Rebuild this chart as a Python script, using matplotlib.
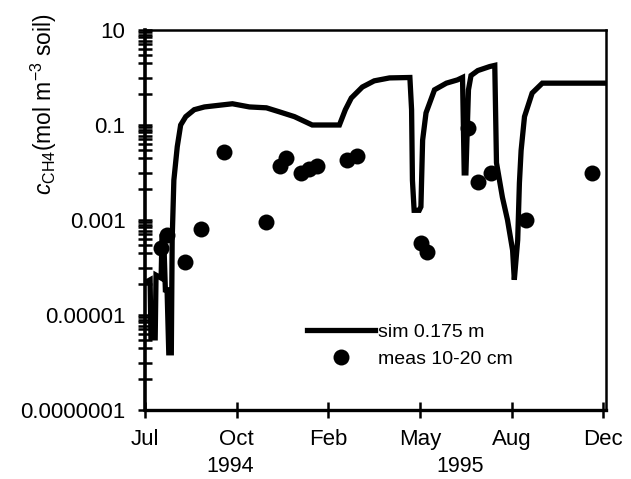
import numpy as np
import matplotlib
matplotlib.use("Agg")
import matplotlib.pyplot as plt
from matplotlib.lines import Line2D

# ===== fonts =====
plt.rcParams["font.family"] = ["Liberation Sans", "DejaVu Sans"]
plt.rcParams["mathtext.fontset"] = "custom"
plt.rcParams["mathtext.rm"] = "Liberation Sans"
plt.rcParams["mathtext.it"] = "Liberation Sans:italic"

# ===== data (days since 1 Jul 1994, mol m-3 soil) =====
sim_day = [1, 6, 7, 12, 13, 19, 20, 22, 24, 26, 28, 31, 32, 34, 38, 42, 48, 58,
           70, 87, 103, 123, 143, 158, 176, 197, 229, 236, 243, 256, 270, 288,
           312, 314, 315, 317, 323, 325, 327, 331, 341, 355, 368, 374, 376, 378,
           381, 384, 392, 406, 412, 414, 421, 427, 433, 435, 439, 441, 443, 447,
           456, 468, 488, 543]
sim_conc = [4.9e-5, 5.5e-5, 3.3e-6, 3.3e-6, 6.9e-5, 6.0e-5, 4.4e-4, 4.4e-4,
            3.4e-5, 3.4e-5, 1.6e-6, 1.6e-6, 3.8e-4, 6.9e-3, 3.5e-2, 0.10, 0.15,
            0.21, 0.24, 0.26, 0.28, 0.24, 0.23, 0.19, 0.15, 0.10, 0.10, 0.21,
            0.37, 0.63, 0.85, 0.98, 1.0, 0.21, 6.9e-3, 1.6e-3, 1.6e-3, 1.9e-3,
            4.8e-2, 0.18, 0.55, 0.76, 0.89, 1.0, 9.8e-3, 9.8e-3, 0.55, 1.1, 1.4,
            1.7, 1.8, 1.6e-2, 3.0e-3, 1.0e-3, 2.3e-4, 5.5e-5, 3.8e-4, 6.0e-3,
            2.9e-2, 0.15, 0.47, 0.76, 0.76, 0.76]

meas_day = [19, 26, 47, 66, 93, 143, 159, 166, 184, 193, 203, 238, 250,
            325, 332, 380, 392, 408, 449, 527]
meas_conc = [2.6e-4, 4.8e-4, 1.3e-4, 6.5e-4, 2.7e-2, 9.1e-4, 1.4e-2, 2.0e-2,
             9.8e-3, 1.2e-2, 1.4e-2, 1.8e-2, 2.2e-2, 3.3e-4, 2.1e-4, 8.7e-2,
             6.3e-3, 1.0e-2, 1.0e-3, 9.8e-3]

x_ticks = [0, 108, 216, 324, 432, 540]
x_labels = ["Jul", "Oct", "Feb", "May", "Aug", "Dec"]
year_labels = ["1994", "1995"]
year_pos = [100, 371]

y_ticks = [1e-7, 1e-5, 1e-3, 1e-1, 10]
y_labels = ["0.0000001", "0.00001", "0.001", "0.1", "10"]


def minor_ticks():
    out = []
    for a in y_ticks[:-1]:
        out += [k * 10 * a for k in range(1, 10)]
        out.append(4.4 * a)
    return out


def main():
    fig = plt.figure(figsize=(6.31, 4.79), dpi=100)
    ax = fig.add_axes([145 / 631, 1 - 410 / 479, 461 / 631, 380 / 479])

    ax.plot(sim_day, sim_conc, color="black", lw=3.8, solid_joinstyle="miter",
            label="sim 0.175 m")
    ax.plot(meas_day, meas_conc, "o", color="black", ms=11.5, mew=0,
            label="meas 10-20 cm")

    ax.set_yscale("log")
    ax.set_ylim(1e-7, 10)
    ax.set_xlim(0, 543)

    ax.set_yticks(y_ticks, y_labels)
    ax.set_yticks(minor_ticks(), minor=True)
    ax.yaxis.set_minor_formatter(plt.NullFormatter())
    ax.set_xticks(x_ticks, x_labels)

    ax.tick_params(axis="y", which="both", direction="inout", length=10,
                   width=1.8, labelsize=16, pad=9)
    ax.tick_params(axis="x", which="major", direction="inout", length=11,
                   width=1.8, labelsize=16, pad=8)

    for side, lw in [("left", 2.6), ("bottom", 2.4), ("top", 1.8), ("right", 1.8)]:
        ax.spines[side].set_linewidth(lw)

    # year labels under the month ticks
    for txt, xp in zip(year_labels, year_pos):
        ax.text(xp, -0.148, txt, transform=ax.get_xaxis_transform(),
                ha="center", va="center", fontsize=15.5)

    fig.text(44 / 631, 1 - 104 / 479,
             r"$c_{\mathrm{CH4}}$(mol m$^{-3}$ soil)",
             rotation=90, ha="center", va="center", fontsize=16.5)

    handles = [
        Line2D([], [], color="black", lw=3.8),
        Line2D([], [], marker="o", ls="", color="black", ms=11.5, mew=0),
    ]
    ax.legend(handles, ["sim 0.175 m", "meas 10-20 cm"], loc="upper left",
              bbox_to_anchor=(0.351, 0.229), frameon=False, fontsize=14,
              handlelength=3.5, handletextpad=0.15, labelspacing=0.5,
              borderpad=0, borderaxespad=0)

    fig.savefig("out.png", dpi=100)
    plt.close(fig)


if __name__ == "__main__":
    main()
